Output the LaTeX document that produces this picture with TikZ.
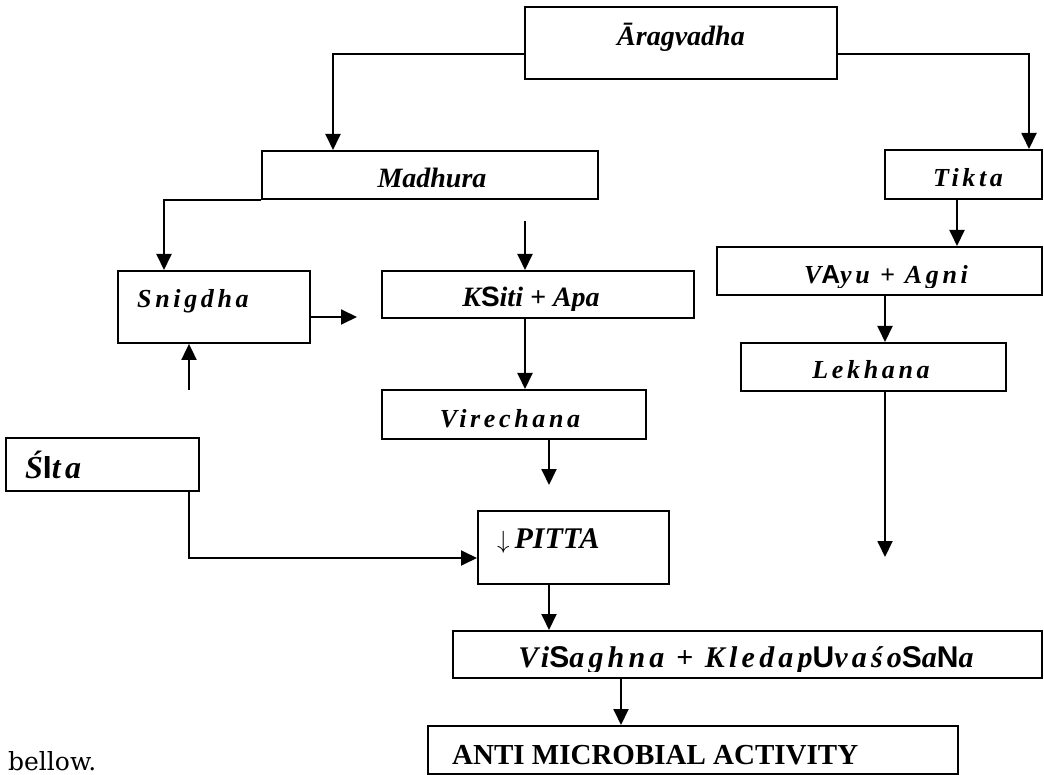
\documentclass[tikz,border=0pt]{standalone}
\usepackage{fontspec}
\setmainfont{Liberation Serif}
\newfontfamily\spfont{Liberation Serif}[LetterSpace=14]
\newfontfamily\sansbold{Liberation Sans}
\newfontfamily\bellowfont{DejaVu Serif}
\usetikzlibrary{arrows.meta}
\newcommand{\sfL}[1]{{\sansbold\bfseries\upshape #1}}
\tikzset{
  every picture/.style={line join=miter, line cap=butt},
  box/.style={draw, line width=1.9pt, inner sep=0pt, anchor=north west},
  conn/.style={line width=1.9pt, -{Triangle[length=16pt,width=15pt]}},
  txt/.style={inner sep=0pt, font=\fontsize{28}{30}\selectfont\bfseries\itshape},
  sptxt/.style={inner sep=0pt, font=\spfont\fontsize{26}{28}\selectfont\bfseries\itshape},
}

\begin{document}
\begin{tikzpicture}[x=1pt,y=-1pt]
\useasboundingbox (0,0) rectangle (1044,775);
\node[box, minimum width=312pt, minimum height=72pt] (arag) at (524,6) {};
\node[box, minimum width=336pt, minimum height=48pt] (madhura) at (261,150) {};
\node[box, minimum width=157pt, minimum height=49pt] (tikta) at (884,149) {};
\node[box, minimum width=192pt, minimum height=72pt] (snig) at (117,270) {};
\node[box, minimum width=312pt, minimum height=47pt] (ksiti) at (381,270) {};
\node[box, minimum width=325pt, minimum height=48pt] (vayu) at (716,246) {};
\node[box, minimum width=265pt, minimum height=48pt] (lekh) at (740,342) {};
\node[box, minimum width=264pt, minimum height=49pt] (vire) at (381,389) {};
\node[box, minimum width=193pt, minimum height=53pt] (sita) at (5,437) {};
\node[box, minimum width=191pt, minimum height=73pt] (pitta) at (477,510) {};
\node[box, minimum width=589pt, minimum height=47pt] (visa) at (452,630) {};
\node[box, minimum width=530pt, minimum height=48pt] (anti) at (427,725) {};

\node[txt, anchor=base] (taragtxt) at (681,46) {Āragvadha};
\node[txt, anchor=base] (tmadhura) at (432,188) {Madhura};
\node[sptxt, anchor=base] (ttikta) at (968,187) {Tikta};
\node[sptxt, anchor=base west] (tsnig) at (137,308) {Snigdha};
\begin{scope}
\clip (381,270) rectangle (693,311);
\node[txt, anchor=base] (tksiti) at (531,307) {K\sfL{S}iti + Apa};
\end{scope}
\begin{scope}
\clip (716,246) rectangle (1041,288);
\node[sptxt, anchor=base] (tvayu) at (886,284) {V\sfL{A}yu + Agni};
\end{scope}
\node[sptxt, anchor=base] (tlekh) at (871,379) {Lekhana};
\node[sptxt, anchor=base] (tvire) at (510,427) {Virechana};
\node[sptxt, anchor=base west, font=\spfont\fontsize{32}{34}\selectfont\bfseries\itshape] (tsita) at (25,478) {Ś\sfL{I}ta};
\node[txt, anchor=base west, font=\fontsize{30}{32}\selectfont\bfseries\itshape] (tpitta) at (497,548) {$\downarrow$\,PITTA};
\begin{scope}
\clip (452,630) rectangle (1041,671);
\node[sptxt, anchor=base, font=\spfont\fontsize{30}{32}\selectfont\bfseries\itshape] (tvisa) at (746,667) {Vi\sfL{S}aghna + Kledap\sfL{U}vaśo\sfL{S}a\sfL{N}a};
\end{scope}
\node[inner sep=0pt, anchor=base west, font=\fontsize{29}{31}\selectfont\bfseries] (tanti) at (452,764) {ANTI MICROBIAL ACTIVITY};
\node[inner sep=0pt, anchor=base west, font=\bellowfont\fontsize{25}{27}\selectfont] (tbellow) at (8,770) {bellow.};

\coordinate (ay) at (0,54);
\coordinate (ml) at (333,0);
\coordinate (tr) at (1029,0);
\coordinate (sl) at (164,0);
\coordinate (kin) at (525,221);
\coordinate (tv) at (957,0);
\coordinate (lout) at (885,557);
\coordinate (sright) at (357,317);
\coordinate (sbelow) at (189,390);
\coordinate (sturn) at (189,558);
\coordinate (vout) at (549,485);
\coordinate (vd) at (621,0);

\draw[conn] (arag.west |- ay) -| (ml |- madhura.north);
\draw[conn] (arag.east |- ay) -| (tr |- tikta.north);
\draw[conn] (madhura.south west) -| (sl |- snig.north);
\draw[conn] (kin) -- (kin |- ksiti.north);
\draw[conn] (kin |- ksiti.south) -- (kin |- vire.north);
\draw[conn] (vout |- vire.south) -- (vout);
\draw[conn] (vout |- pitta.south) -- (vout |- visa.north);
\draw[conn] (vd |- visa.south) -- (vd |- anti.north);
\draw[conn] (tv |- tikta.south) -- (tv |- vayu.north);
\draw[conn] (lout |- vayu.south) -- (lout |- lekh.north);
\draw[conn] (lout |- lekh.south) -- (lout);
\draw[conn] (snig.east |- sright) -- (sright);
\draw[conn] (sbelow) -- (sbelow |- snig.south);
\draw[conn] (sturn |- sita.south) -- (sturn) -- (pitta.west |- sturn);
\end{tikzpicture}
\end{document}
